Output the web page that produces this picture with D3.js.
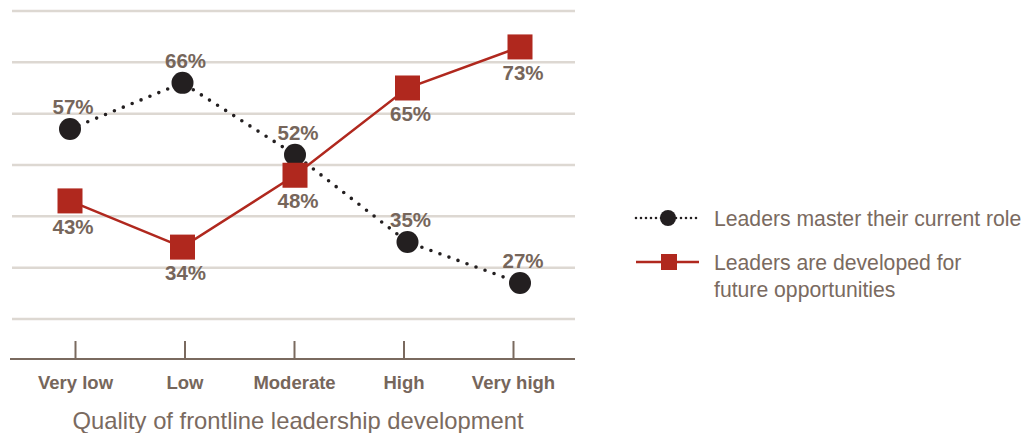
<!DOCTYPE html>
<html><head><meta charset="utf-8">
<script src="https://cdn.jsdelivr.net/npm/d3@7"></script>
<style>body{margin:0;background:#fff}svg{display:block}</style>
</head><body>
<svg id="c" width="1024" height="433"></svg>
<script>
const categories = ["Very low", "Low", "Moderate", "High", "Very high"];
const masterValues = [57, 66, 52, 35, 27];
const developedValues = [43, 34, 48, 65, 73];
const gridValues = [20, 30, 40, 50, 60, 70, 80];
const seriesNames = ["Leaders master their current role", "Leaders are developed for", "future opportunities"];
const axisTitle = "Quality of frontline leadership development";

const svg = d3.select("#c");
const FONT = "'Liberation Sans', Arial, sans-serif";
const labelColor = "#76665b";
const red = "#b0281e";
const dark = "#231f20";

const x = d3.scalePoint().domain(categories).range([70, 520]);
const xTick = d3.scalePoint().domain(categories).range([75, 513]);
const y = d3.scaleLinear().domain([12.2, 80]).range([359, 11]);

// gridlines
svg.append("g").selectAll("line").data(gridValues).join("line")
  .attr("x1", 12).attr("x2", 575)
  .attr("y1", d => y(d)).attr("y2", d => y(d))
  .attr("stroke", "#ddd8d2").attr("stroke-width", 2.5);

// x axis
const ax = svg.append("g").attr("transform", `translate(0,${y(12.2)})`)
  .call(d3.axisBottom(xTick).tickSize(0).tickPadding(0).tickFormat(""));
ax.select(".domain").remove();
ax.append("line").attr("x1", 10).attr("x2", 575).attr("y1", 0).attr("y2", 0)
  .attr("stroke", "#7a6a5f").attr("stroke-width", 2.2);
ax.selectAll(".tick line").attr("y1", -18).attr("y2", 0)
  .attr("stroke", "#7a6a5f").attr("stroke-width", 2);
ax.selectAll(".tick").append("text")
  .attr("y", 30).attr("text-anchor", "middle")
  .attr("fill", labelColor).attr("font-family", FONT).attr("font-size", 18.5).attr("font-weight", "bold")
  .text(d => d);

svg.append("text").attr("x", 298).attr("y", 429).attr("text-anchor", "middle")
  .attr("fill", "#7a6a60").attr("font-family", FONT).attr("font-size", 23.8)
  .text(axisTitle);

// master series (dotted, circles)
const line = d3.line().x((d, i) => x(categories[i])).y(d => y(d));
svg.append("path").datum(masterValues).attr("d", line)
  .attr("fill", "none").attr("stroke", dark).attr("stroke-width", 3.6)
  .attr("stroke-linecap", "round").attr("stroke-dasharray", "0 9.6");
svg.append("g").selectAll("circle").data(masterValues).join("circle")
  .attr("cx", (d, i) => x(categories[i])).attr("cy", d => y(d)).attr("r", 11)
  .attr("fill", dark);

// developed series (red, squares)
svg.append("path").datum(developedValues).attr("d", line)
  .attr("fill", "none").attr("stroke", red).attr("stroke-width", 2.5);
svg.append("g").selectAll("rect").data(developedValues).join("rect")
  .attr("x", (d, i) => x(categories[i]) - 12.5).attr("y", d => y(d) - 12.5)
  .attr("width", 25).attr("height", 25).attr("fill", red);

// value labels
svg.append("g").selectAll("text").data(masterValues).join("text")
  .attr("x", (d, i) => x(categories[i]) + 3).attr("y", d => y(d) - 15)
  .attr("text-anchor", "middle").attr("fill", labelColor).attr("font-family", FONT)
  .attr("font-size", 20.5).attr("font-weight", "bold").text(d => d + "%");
svg.append("g").selectAll("text").data(developedValues).join("text")
  .attr("x", (d, i) => x(categories[i]) + 3).attr("y", d => y(d) + 33)
  .attr("text-anchor", "middle").attr("fill", labelColor).attr("font-family", FONT)
  .attr("font-size", 20.5).attr("font-weight", "bold").text(d => d + "%");

// legend
const lg = svg.append("g");
lg.append("line").attr("x1", 636).attr("x2", 700).attr("y1", 218).attr("y2", 218)
  .attr("stroke", dark).attr("stroke-width", 2.6).attr("stroke-linecap", "round").attr("stroke-dasharray", "0 5");
lg.append("circle").attr("cx", 668).attr("cy", 218).attr("r", 8).attr("fill", dark);
lg.append("line").attr("x1", 636).attr("x2", 699).attr("y1", 262).attr("y2", 262)
  .attr("stroke", red).attr("stroke-width", 2.5);
lg.append("rect").attr("x", 661).attr("y", 254).attr("width", 16).attr("height", 16).attr("fill", red);
lg.selectAll("text").data(seriesNames).join("text")
  .attr("x", 714).attr("y", (d, i) => [225.5, 269.5, 296.5][i])
  .attr("fill", "#7a6a60").attr("font-family", FONT).attr("font-size", 21.2)
  .text(d => d);
</script>
</body></html>
